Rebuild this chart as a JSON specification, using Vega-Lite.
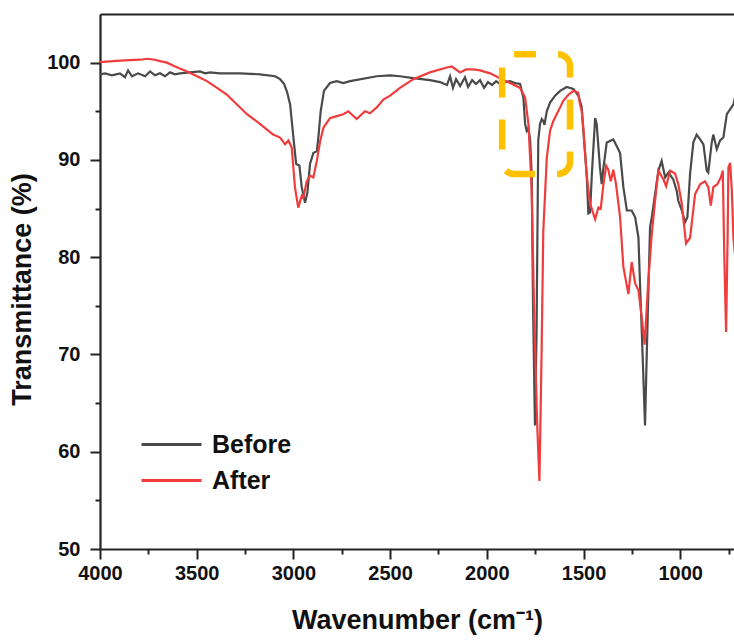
{
  "$schema": "https://vega.github.io/schema/vega-lite/v6.json",
  "width": 634,
  "height": 535,
  "autosize": {"type": "none"},
  "padding": {"left": 100, "top": 14, "right": 0, "bottom": 91},
  "background": "white",
  "config": {
    "view": {"stroke": null},
    "font": "Liberation Sans",
    "axis": {
      "grid": false,
      "domainColor": "#222222",
      "domainWidth": 2.2,
      "tickColor": "#222222",
      "tickWidth": 2,
      "labelFont": "Liberation Sans",
      "labelFontWeight": "bold",
      "labelFontSize": 20,
      "labelColor": "#111111",
      "titleFont": "Liberation Sans",
      "titleFontWeight": "bold",
      "titleFontSize": 27,
      "titleColor": "#111111"
    }
  },
  "datasets": {
    "spectra": [
      {"series": "Before", "wavenumber": 4000, "transmittance": 98.8},
      {"series": "Before", "wavenumber": 3974, "transmittance": 98.9},
      {"series": "Before", "wavenumber": 3938, "transmittance": 98.7},
      {"series": "Before", "wavenumber": 3897, "transmittance": 98.9},
      {"series": "Before", "wavenumber": 3871, "transmittance": 98.5},
      {"series": "Before", "wavenumber": 3855, "transmittance": 99.2},
      {"series": "Before", "wavenumber": 3835, "transmittance": 98.6},
      {"series": "Before", "wavenumber": 3803, "transmittance": 98.9},
      {"series": "Before", "wavenumber": 3767, "transmittance": 98.6},
      {"series": "Before", "wavenumber": 3741, "transmittance": 99.1},
      {"series": "Before", "wavenumber": 3716, "transmittance": 98.7},
      {"series": "Before", "wavenumber": 3690, "transmittance": 98.9},
      {"series": "Before", "wavenumber": 3664, "transmittance": 98.6},
      {"series": "Before", "wavenumber": 3638, "transmittance": 99.0},
      {"series": "Before", "wavenumber": 3612, "transmittance": 98.8},
      {"series": "Before", "wavenumber": 3586, "transmittance": 98.9},
      {"series": "Before", "wavenumber": 3535, "transmittance": 99.0},
      {"series": "Before", "wavenumber": 3483, "transmittance": 99.1},
      {"series": "Before", "wavenumber": 3457, "transmittance": 98.9},
      {"series": "Before", "wavenumber": 3431, "transmittance": 99.0},
      {"series": "Before", "wavenumber": 3379, "transmittance": 98.9},
      {"series": "Before", "wavenumber": 3276, "transmittance": 98.9},
      {"series": "Before", "wavenumber": 3173, "transmittance": 98.8},
      {"series": "Before", "wavenumber": 3095, "transmittance": 98.6},
      {"series": "Before", "wavenumber": 3069, "transmittance": 98.3},
      {"series": "Before", "wavenumber": 3048, "transmittance": 97.8},
      {"series": "Before", "wavenumber": 3033, "transmittance": 97.0},
      {"series": "Before", "wavenumber": 3017, "transmittance": 95.7},
      {"series": "Before", "wavenumber": 3002, "transmittance": 92.7},
      {"series": "Before", "wavenumber": 2986, "transmittance": 89.6},
      {"series": "Before", "wavenumber": 2969, "transmittance": 89.4},
      {"series": "Before", "wavenumber": 2957, "transmittance": 87.2},
      {"series": "Before", "wavenumber": 2940, "transmittance": 85.6},
      {"series": "Before", "wavenumber": 2928, "transmittance": 86.6},
      {"series": "Before", "wavenumber": 2914, "transmittance": 89.6},
      {"series": "Before", "wavenumber": 2897, "transmittance": 90.7},
      {"series": "Before", "wavenumber": 2879, "transmittance": 90.9},
      {"series": "Before", "wavenumber": 2871, "transmittance": 92.3},
      {"series": "Before", "wavenumber": 2859, "transmittance": 95.0},
      {"series": "Before", "wavenumber": 2842, "transmittance": 97.1},
      {"series": "Before", "wavenumber": 2811, "transmittance": 97.9},
      {"series": "Before", "wavenumber": 2776, "transmittance": 98.1},
      {"series": "Before", "wavenumber": 2742, "transmittance": 97.9},
      {"series": "Before", "wavenumber": 2707, "transmittance": 98.1},
      {"series": "Before", "wavenumber": 2569, "transmittance": 98.6},
      {"series": "Before", "wavenumber": 2500, "transmittance": 98.7},
      {"series": "Before", "wavenumber": 2449, "transmittance": 98.6},
      {"series": "Before", "wavenumber": 2381, "transmittance": 98.4},
      {"series": "Before", "wavenumber": 2294, "transmittance": 98.2},
      {"series": "Before", "wavenumber": 2242, "transmittance": 98.0},
      {"series": "Before", "wavenumber": 2206, "transmittance": 97.7},
      {"series": "Before", "wavenumber": 2190, "transmittance": 98.6},
      {"series": "Before", "wavenumber": 2175, "transmittance": 97.4},
      {"series": "Before", "wavenumber": 2159, "transmittance": 98.3},
      {"series": "Before", "wavenumber": 2138, "transmittance": 97.6},
      {"series": "Before", "wavenumber": 2113, "transmittance": 98.5},
      {"series": "Before", "wavenumber": 2097, "transmittance": 97.5},
      {"series": "Before", "wavenumber": 2076, "transmittance": 98.2},
      {"series": "Before", "wavenumber": 2056, "transmittance": 97.8},
      {"series": "Before", "wavenumber": 2035, "transmittance": 98.2},
      {"series": "Before", "wavenumber": 2014, "transmittance": 97.4},
      {"series": "Before", "wavenumber": 1994, "transmittance": 98.0},
      {"series": "Before", "wavenumber": 1973, "transmittance": 97.7},
      {"series": "Before", "wavenumber": 1952, "transmittance": 98.1},
      {"series": "Before", "wavenumber": 1932, "transmittance": 97.8},
      {"series": "Before", "wavenumber": 1906, "transmittance": 98.0},
      {"series": "Before", "wavenumber": 1880, "transmittance": 98.1},
      {"series": "Before", "wavenumber": 1854, "transmittance": 97.9},
      {"series": "Before", "wavenumber": 1828, "transmittance": 97.8},
      {"series": "Before", "wavenumber": 1811, "transmittance": 96.4},
      {"series": "Before", "wavenumber": 1802, "transmittance": 93.7},
      {"series": "Before", "wavenumber": 1794, "transmittance": 93.0},
      {"series": "Before", "wavenumber": 1785, "transmittance": 93.3},
      {"series": "Before", "wavenumber": 1776, "transmittance": 92.0},
      {"series": "Before", "wavenumber": 1768, "transmittance": 88.5},
      {"series": "Before", "wavenumber": 1761, "transmittance": 75.0},
      {"series": "Before", "wavenumber": 1751, "transmittance": 62.7},
      {"series": "Before", "wavenumber": 1743, "transmittance": 72.0},
      {"series": "Before", "wavenumber": 1734, "transmittance": 92.0},
      {"series": "Before", "wavenumber": 1725, "transmittance": 93.7},
      {"series": "Before", "wavenumber": 1716, "transmittance": 94.2},
      {"series": "Before", "wavenumber": 1708, "transmittance": 94.0},
      {"series": "Before", "wavenumber": 1702, "transmittance": 93.6},
      {"series": "Before", "wavenumber": 1690, "transmittance": 95.0},
      {"series": "Before", "wavenumber": 1673, "transmittance": 95.9},
      {"series": "Before", "wavenumber": 1647, "transmittance": 96.6},
      {"series": "Before", "wavenumber": 1621, "transmittance": 97.1},
      {"series": "Before", "wavenumber": 1587, "transmittance": 97.5},
      {"series": "Before", "wavenumber": 1552, "transmittance": 97.3},
      {"series": "Before", "wavenumber": 1527, "transmittance": 96.6},
      {"series": "Before", "wavenumber": 1510, "transmittance": 95.5},
      {"series": "Before", "wavenumber": 1501, "transmittance": 93.0},
      {"series": "Before", "wavenumber": 1484, "transmittance": 88.6},
      {"series": "Before", "wavenumber": 1475, "transmittance": 84.5},
      {"series": "Before", "wavenumber": 1466, "transmittance": 84.6},
      {"series": "Before", "wavenumber": 1457, "transmittance": 88.5},
      {"series": "Before", "wavenumber": 1440, "transmittance": 94.3},
      {"series": "Before", "wavenumber": 1432, "transmittance": 93.7},
      {"series": "Before", "wavenumber": 1415, "transmittance": 89.2},
      {"series": "Before", "wavenumber": 1406, "transmittance": 87.5},
      {"series": "Before", "wavenumber": 1397, "transmittance": 89.2},
      {"series": "Before", "wavenumber": 1380, "transmittance": 91.8},
      {"series": "Before", "wavenumber": 1346, "transmittance": 92.1},
      {"series": "Before", "wavenumber": 1328, "transmittance": 91.4},
      {"series": "Before", "wavenumber": 1311, "transmittance": 90.7},
      {"series": "Before", "wavenumber": 1294, "transmittance": 87.2},
      {"series": "Before", "wavenumber": 1276, "transmittance": 84.8},
      {"series": "Before", "wavenumber": 1251, "transmittance": 84.8},
      {"series": "Before", "wavenumber": 1233, "transmittance": 84.1},
      {"series": "Before", "wavenumber": 1216, "transmittance": 82.0},
      {"series": "Before", "wavenumber": 1208, "transmittance": 77.3},
      {"series": "Before", "wavenumber": 1199, "transmittance": 72.5},
      {"series": "Before", "wavenumber": 1182, "transmittance": 62.7},
      {"series": "Before", "wavenumber": 1173, "transmittance": 70.1},
      {"series": "Before", "wavenumber": 1156, "transmittance": 83.1},
      {"series": "Before", "wavenumber": 1147, "transmittance": 84.1},
      {"series": "Before", "wavenumber": 1130, "transmittance": 86.5},
      {"series": "Before", "wavenumber": 1113, "transmittance": 88.9},
      {"series": "Before", "wavenumber": 1096, "transmittance": 89.9},
      {"series": "Before", "wavenumber": 1078, "transmittance": 88.2},
      {"series": "Before", "wavenumber": 1061, "transmittance": 88.7},
      {"series": "Before", "wavenumber": 1036, "transmittance": 88.0},
      {"series": "Before", "wavenumber": 1018, "transmittance": 86.8},
      {"series": "Before", "wavenumber": 1010, "transmittance": 85.8},
      {"series": "Before", "wavenumber": 992, "transmittance": 84.8},
      {"series": "Before", "wavenumber": 975, "transmittance": 83.6},
      {"series": "Before", "wavenumber": 963, "transmittance": 84.1},
      {"series": "Before", "wavenumber": 949, "transmittance": 88.6},
      {"series": "Before", "wavenumber": 932, "transmittance": 91.8},
      {"series": "Before", "wavenumber": 915, "transmittance": 92.6},
      {"series": "Before", "wavenumber": 897, "transmittance": 92.1},
      {"series": "Before", "wavenumber": 880, "transmittance": 91.6},
      {"series": "Before", "wavenumber": 863, "transmittance": 88.9},
      {"series": "Before", "wavenumber": 855, "transmittance": 88.7},
      {"series": "Before", "wavenumber": 837, "transmittance": 91.8},
      {"series": "Before", "wavenumber": 829, "transmittance": 92.6},
      {"series": "Before", "wavenumber": 811, "transmittance": 91.1},
      {"series": "Before", "wavenumber": 794, "transmittance": 92.0},
      {"series": "Before", "wavenumber": 777, "transmittance": 92.3},
      {"series": "Before", "wavenumber": 759, "transmittance": 94.7},
      {"series": "Before", "wavenumber": 742, "transmittance": 95.2},
      {"series": "Before", "wavenumber": 725, "transmittance": 95.7},
      {"series": "Before", "wavenumber": 715, "transmittance": 96.6},
      {"series": "After", "wavenumber": 4000, "transmittance": 100.05},
      {"series": "After", "wavenumber": 3897, "transmittance": 100.2},
      {"series": "After", "wavenumber": 3793, "transmittance": 100.3},
      {"series": "After", "wavenumber": 3757, "transmittance": 100.4},
      {"series": "After", "wavenumber": 3716, "transmittance": 100.3},
      {"series": "After", "wavenumber": 3690, "transmittance": 100.15},
      {"series": "After", "wavenumber": 3654, "transmittance": 100.0},
      {"series": "After", "wavenumber": 3612, "transmittance": 99.6},
      {"series": "After", "wavenumber": 3550, "transmittance": 99.1},
      {"series": "After", "wavenumber": 3498, "transmittance": 98.6},
      {"series": "After", "wavenumber": 3447, "transmittance": 98.1},
      {"series": "After", "wavenumber": 3395, "transmittance": 97.4},
      {"series": "After", "wavenumber": 3343, "transmittance": 96.7},
      {"series": "After", "wavenumber": 3292, "transmittance": 95.7},
      {"series": "After", "wavenumber": 3240, "transmittance": 94.7},
      {"series": "After", "wavenumber": 3173, "transmittance": 93.7},
      {"series": "After", "wavenumber": 3105, "transmittance": 92.6},
      {"series": "After", "wavenumber": 3069, "transmittance": 92.3},
      {"series": "After", "wavenumber": 3043, "transmittance": 91.6},
      {"series": "After", "wavenumber": 3026, "transmittance": 92.0},
      {"series": "After", "wavenumber": 3009, "transmittance": 91.3},
      {"series": "After", "wavenumber": 2992, "transmittance": 87.2},
      {"series": "After", "wavenumber": 2975, "transmittance": 85.1},
      {"series": "After", "wavenumber": 2957, "transmittance": 86.3},
      {"series": "After", "wavenumber": 2949, "transmittance": 86.1},
      {"series": "After", "wavenumber": 2931, "transmittance": 87.8},
      {"series": "After", "wavenumber": 2914, "transmittance": 88.4},
      {"series": "After", "wavenumber": 2897, "transmittance": 88.2},
      {"series": "After", "wavenumber": 2879, "transmittance": 89.9},
      {"series": "After", "wavenumber": 2862, "transmittance": 91.9},
      {"series": "After", "wavenumber": 2845, "transmittance": 93.3},
      {"series": "After", "wavenumber": 2811, "transmittance": 94.3},
      {"series": "After", "wavenumber": 2776, "transmittance": 94.5},
      {"series": "After", "wavenumber": 2742, "transmittance": 94.7},
      {"series": "After", "wavenumber": 2716, "transmittance": 95.0},
      {"series": "After", "wavenumber": 2673, "transmittance": 94.2},
      {"series": "After", "wavenumber": 2630, "transmittance": 95.0},
      {"series": "After", "wavenumber": 2604, "transmittance": 94.8},
      {"series": "After", "wavenumber": 2569, "transmittance": 95.4},
      {"series": "After", "wavenumber": 2535, "transmittance": 96.2},
      {"series": "After", "wavenumber": 2500, "transmittance": 96.6},
      {"series": "After", "wavenumber": 2449, "transmittance": 97.4},
      {"series": "After", "wavenumber": 2380, "transmittance": 98.3},
      {"series": "After", "wavenumber": 2294, "transmittance": 99.0},
      {"series": "After", "wavenumber": 2207, "transmittance": 99.5},
      {"series": "After", "wavenumber": 2181, "transmittance": 99.6},
      {"series": "After", "wavenumber": 2138, "transmittance": 99.0},
      {"series": "After", "wavenumber": 2107, "transmittance": 99.3},
      {"series": "After", "wavenumber": 2070, "transmittance": 99.3},
      {"series": "After", "wavenumber": 2035, "transmittance": 99.2},
      {"series": "After", "wavenumber": 1983, "transmittance": 98.9},
      {"series": "After", "wavenumber": 1932, "transmittance": 98.4},
      {"series": "After", "wavenumber": 1880, "transmittance": 97.9},
      {"series": "After", "wavenumber": 1828, "transmittance": 97.4},
      {"series": "After", "wavenumber": 1802, "transmittance": 96.4},
      {"series": "After", "wavenumber": 1785, "transmittance": 93.7},
      {"series": "After", "wavenumber": 1776, "transmittance": 90.2},
      {"series": "After", "wavenumber": 1768, "transmittance": 86.8},
      {"series": "After", "wavenumber": 1756, "transmittance": 75.0},
      {"series": "After", "wavenumber": 1740, "transmittance": 63.0},
      {"series": "After", "wavenumber": 1728, "transmittance": 57.0},
      {"series": "After", "wavenumber": 1717, "transmittance": 70.0},
      {"series": "After", "wavenumber": 1708, "transmittance": 82.7},
      {"series": "After", "wavenumber": 1690, "transmittance": 90.2},
      {"series": "After", "wavenumber": 1673, "transmittance": 93.0},
      {"series": "After", "wavenumber": 1656, "transmittance": 94.0},
      {"series": "After", "wavenumber": 1639, "transmittance": 94.7},
      {"series": "After", "wavenumber": 1621, "transmittance": 95.4},
      {"series": "After", "wavenumber": 1604, "transmittance": 96.1},
      {"series": "After", "wavenumber": 1578, "transmittance": 96.7},
      {"series": "After", "wavenumber": 1552, "transmittance": 97.1},
      {"series": "After", "wavenumber": 1527, "transmittance": 96.9},
      {"series": "After", "wavenumber": 1518, "transmittance": 95.7},
      {"series": "After", "wavenumber": 1509, "transmittance": 95.0},
      {"series": "After", "wavenumber": 1501, "transmittance": 93.3},
      {"series": "After", "wavenumber": 1484, "transmittance": 88.5},
      {"series": "After", "wavenumber": 1466, "transmittance": 85.5},
      {"series": "After", "wavenumber": 1440, "transmittance": 83.9},
      {"series": "After", "wavenumber": 1423, "transmittance": 85.1},
      {"series": "After", "wavenumber": 1411, "transmittance": 85.0},
      {"series": "After", "wavenumber": 1397, "transmittance": 87.5},
      {"series": "After", "wavenumber": 1383, "transmittance": 89.4},
      {"series": "After", "wavenumber": 1372, "transmittance": 89.0},
      {"series": "After", "wavenumber": 1359, "transmittance": 87.8},
      {"series": "After", "wavenumber": 1346, "transmittance": 89.0},
      {"series": "After", "wavenumber": 1332, "transmittance": 87.5},
      {"series": "After", "wavenumber": 1311, "transmittance": 84.1},
      {"series": "After", "wavenumber": 1294, "transmittance": 79.0},
      {"series": "After", "wavenumber": 1268, "transmittance": 76.2},
      {"series": "After", "wavenumber": 1251, "transmittance": 79.5},
      {"series": "After", "wavenumber": 1233, "transmittance": 77.3},
      {"series": "After", "wavenumber": 1216, "transmittance": 76.6},
      {"series": "After", "wavenumber": 1199, "transmittance": 73.8},
      {"series": "After", "wavenumber": 1184, "transmittance": 71.0},
      {"series": "After", "wavenumber": 1165, "transmittance": 77.6},
      {"series": "After", "wavenumber": 1147, "transmittance": 82.4},
      {"series": "After", "wavenumber": 1130, "transmittance": 85.8},
      {"series": "After", "wavenumber": 1113, "transmittance": 88.9},
      {"series": "After", "wavenumber": 1087, "transmittance": 88.0},
      {"series": "After", "wavenumber": 1073, "transmittance": 87.3},
      {"series": "After", "wavenumber": 1052, "transmittance": 88.9},
      {"series": "After", "wavenumber": 1027, "transmittance": 88.6},
      {"series": "After", "wavenumber": 1010, "transmittance": 87.5},
      {"series": "After", "wavenumber": 992, "transmittance": 85.5},
      {"series": "After", "wavenumber": 970, "transmittance": 81.4},
      {"series": "After", "wavenumber": 949, "transmittance": 82.0},
      {"series": "After", "wavenumber": 923, "transmittance": 86.5},
      {"series": "After", "wavenumber": 897, "transmittance": 87.5},
      {"series": "After", "wavenumber": 872, "transmittance": 87.8},
      {"series": "After", "wavenumber": 855, "transmittance": 87.2},
      {"series": "After", "wavenumber": 842, "transmittance": 85.3},
      {"series": "After", "wavenumber": 829, "transmittance": 87.2},
      {"series": "After", "wavenumber": 808, "transmittance": 87.5},
      {"series": "After", "wavenumber": 790, "transmittance": 88.2},
      {"series": "After", "wavenumber": 780, "transmittance": 88.9},
      {"series": "After", "wavenumber": 772, "transmittance": 80.0},
      {"series": "After", "wavenumber": 763, "transmittance": 72.3},
      {"series": "After", "wavenumber": 755, "transmittance": 82.0},
      {"series": "After", "wavenumber": 751, "transmittance": 89.2},
      {"series": "After", "wavenumber": 742, "transmittance": 89.7},
      {"series": "After", "wavenumber": 733, "transmittance": 86.8},
      {"series": "After", "wavenumber": 725, "transmittance": 82.0},
      {"series": "After", "wavenumber": 716, "transmittance": 80.0}
    ],
    "highlight": [
      {"wavenumber": 1921, "wavenumberEnd": 1570, "transmittance": 100.87, "transmittanceEnd": 88.56}
    ]
  },
  "resolve": {"axis": {"x": "independent", "y": "independent"}},
  "layer": [
    {
      "data": {"name": "spectra"},
      "mark": {"type": "line", "strokeWidth": 2.2, "clip": true, "interpolate": "linear"},
      "encoding": {
        "x": {
          "field": "wavenumber", "type": "quantitative",
          "scale": {"domain": [4000, 722], "nice": false, "zero": false},
          "axis": {"orient": "bottom", "title": "Wavenumber (cm⁻¹)", "format": "d", "values": [4000, 3500, 3000, 2500, 2000, 1500, 1000], "tickSize": 10, "labelPadding": 4, "titlePadding": 24, "labelFlush": false}
        },
        "y": {
          "field": "transmittance", "type": "quantitative",
          "scale": {"domain": [50, 105], "nice": false, "zero": false},
          "axis": {"orient": "left", "title": "Transmittance (%)", "format": "d", "values": [50, 60, 70, 80, 90, 100], "tickSize": 10, "labelPadding": 10, "titlePadding": 10, "titleY": 275}
        },
        "color": {
          "field": "series", "type": "nominal",
          "scale": {"domain": ["Before", "After"], "range": ["#4a4a4a", "#f03c3c"]},
          "legend": {
            "orient": "none", "legendX": 55, "legendY": 414, "title": null,
            "symbolType": "M-2,0H2", "symbolSize": 900, "symbolStrokeWidth": 3,
            "labelFont": "Liberation Sans", "labelFontWeight": "bold", "labelFontSize": 25, "labelColor": "#111111",
            "labelOffset": 24, "rowPadding": 6, "padding": 0
          }
        }
      }
    },
    {
      "data": {"name": "highlight"},
      "mark": {"type": "rect", "fill": null, "fillOpacity": 0, "stroke": "#FFC000", "strokeWidth": 6.5, "strokeDash": [30, 22], "strokeDashOffset": 8, "cornerRadius": 12},
      "encoding": {
        "x": {"field": "wavenumber", "type": "quantitative", "scale": {"domain": [4000, 722], "nice": false, "zero": false},
          "axis": {"orient": "bottom", "title": null, "labels": false, "domain": false, "tickSize": 5, "values": [3750, 3250, 2750, 2250, 1750, 1250, 750]}},
        "x2": {"field": "wavenumberEnd"},
        "y": {"field": "transmittance", "type": "quantitative", "scale": {"domain": [50, 105], "nice": false, "zero": false},
          "axis": {"orient": "left", "title": null, "labels": false, "domain": false, "tickSize": 5, "values": [55, 65, 75, 85, 95]}},
        "y2": {"field": "transmittanceEnd"}
      }
    },
    {
      "data": {"name": "highlight"},
      "mark": {"type": "point", "opacity": 0},
      "encoding": {
        "x": {"field": "wavenumber", "type": "quantitative", "scale": {"domain": [4000, 722], "nice": false, "zero": false},
          "axis": {"orient": "top", "title": null, "labels": false, "ticks": false, "domain": true}},
        "y": {"field": "transmittance", "type": "quantitative", "scale": {"domain": [50, 105], "nice": false, "zero": false}, "axis": null}
      }
    }
  ]
}
